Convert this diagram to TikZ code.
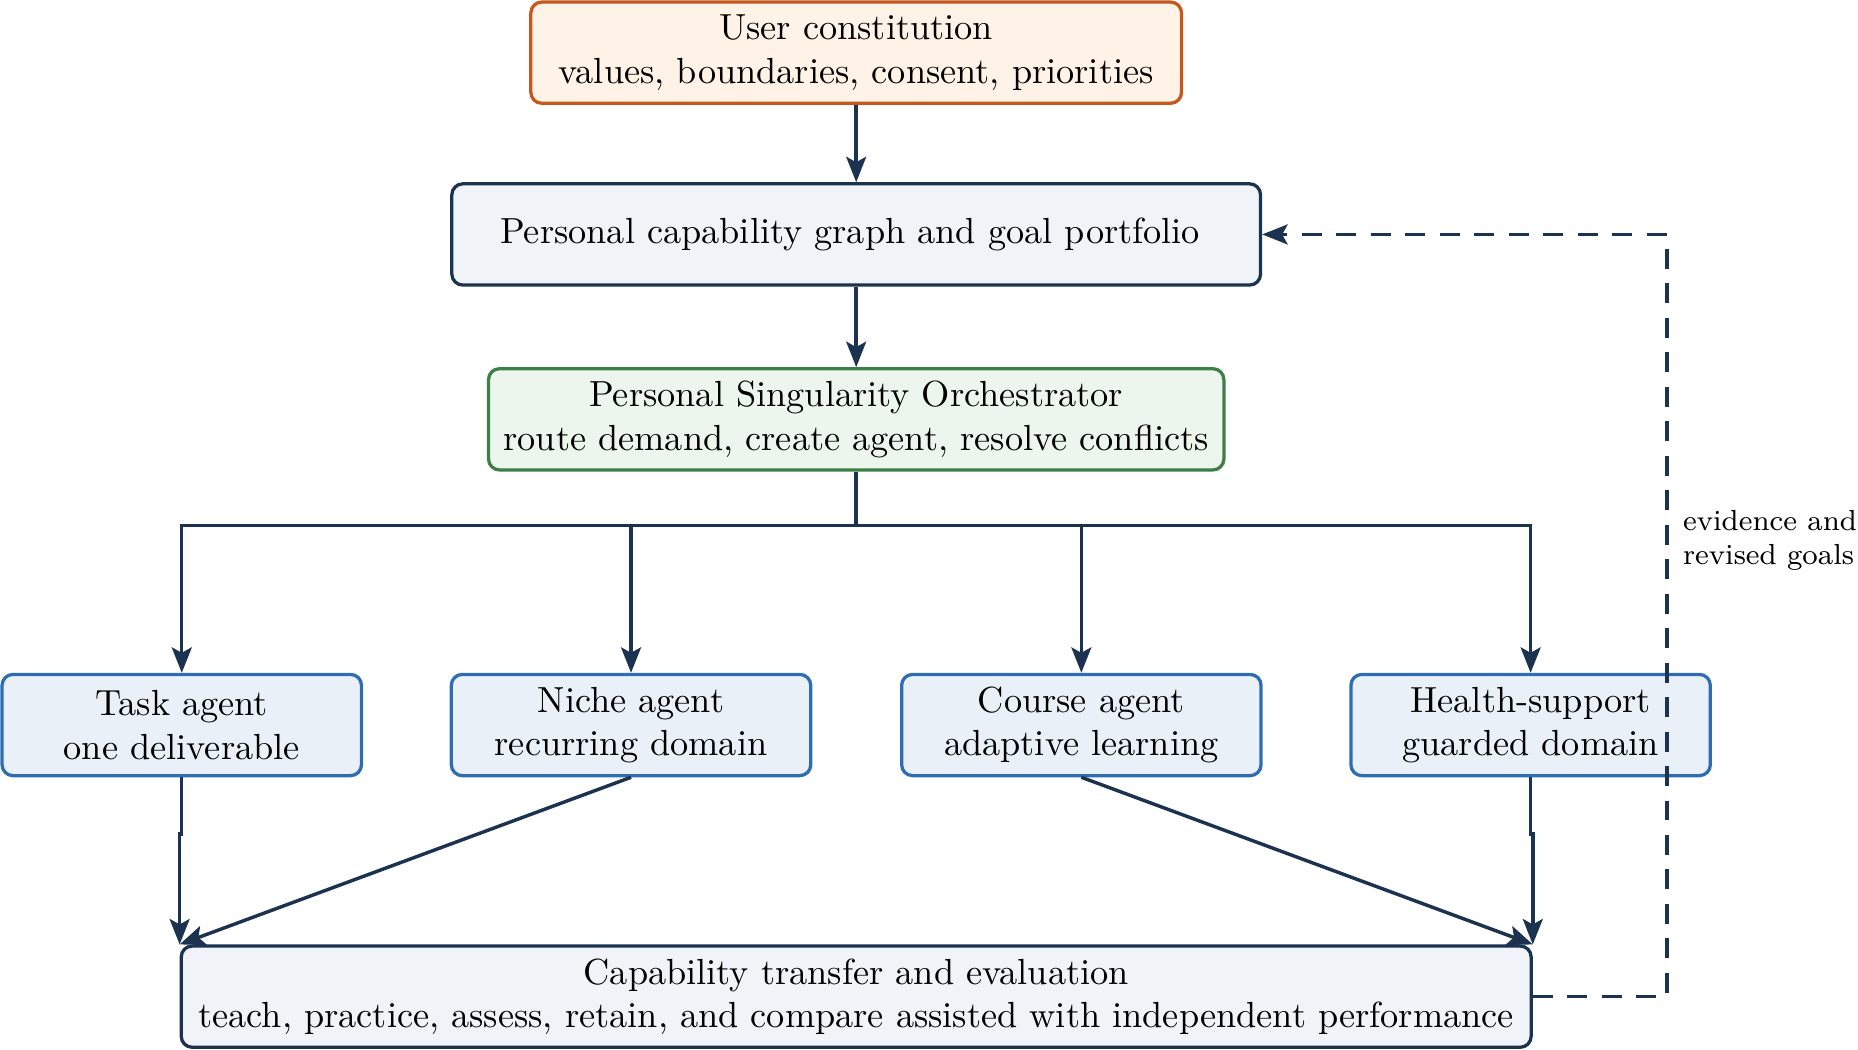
\documentclass[tikz,border=0pt]{standalone}
\usepackage{xcolor}
\usepackage{tikz}
\usetikzlibrary{arrows.meta}
\definecolor{navy}{HTML}{1B3350}
\definecolor{rust}{HTML}{C4581F}
\definecolor{rustfill}{HTML}{FEF3E6}
\definecolor{leaf}{HTML}{3C7F47}
\definecolor{leaffill}{HTML}{EDF6EC}
\definecolor{sky}{HTML}{2F6DB3}
\definecolor{skyfill}{HTML}{E9F0F7}
\definecolor{mist}{HTML}{F0F4F8}

\begin{document}
\begin{tikzpicture}[
      box/.style={draw, line width=0.9pt, rounded corners=3pt,
                  align=center, minimum height=0.98cm, inner sep=3pt},
      agent/.style={box, draw=sky, fill=skyfill, minimum width=3.48cm},
      arr/.style={draw=navy, line width=0.95pt, -{Stealth[length=7pt,width=5.5pt,inset=1.5pt]}},
    ]
      \useasboundingbox (0,0) rectangle (17.99,-10.165);
      \node[box, draw=rust, fill=rustfill, minimum width=6.30cm] (user) at (8.29, -0.51) {%
        User constitution\\
        values, boundaries, consent, priorities
      };
      \node[box, draw=navy, fill=mist, minimum width=7.83cm] (graph) at (8.29, -2.27) {%
        Personal capability graph and goal portfolio
      };
      \node[box, draw=leaf, fill=leaffill, minimum width=7.12cm] (orch) at (8.29, -4.06) {%
        Personal Singularity Orchestrator\\
        route demand, create agent, resolve conflicts
      };
      \node[agent] (task) at (1.76, -7.02) {Task agent\\ one deliverable};
      \node[agent] (niche) at (6.11, -7.02) {Niche agent\\ recurring domain};
      \node[agent] (course) at (10.47, -7.02) {Course agent\\ adaptive learning};
      \node[agent] (health) at (14.82, -7.02) {Health-support\\ guarded domain};
      \node[box, draw=navy, fill=mist, minimum width=13.07cm] (cap) at (8.29, -9.65) {%
        Capability transfer and evaluation\\
        teach, practice, assess, retain, and compare assisted with independent performance
      };

      \draw[arr] (user) -- (graph);
      \draw[arr] (graph) -- (orch);
      \coordinate (split) at (8.29, -5.09);
      \draw[navy, line width=0.95pt] (orch.south) -- (split);
      \foreach \a in {task, niche, course, health}
        \draw[arr] (split) -| (\a.north);

      \draw[arr] (task.south) -- ++(0,-0.55) -| (cap.north west);
      \draw[arr] (niche.south) -- (cap.north west);
      \draw[arr] (course.south) -- (cap.north east);
      \draw[arr] (health.south) -- ++(0,-0.55) -| (cap.north east);

      % feedback loop
      \coordinate (back) at (16.14, -9.65);
      \draw[arr, dash pattern=on 5.5pt off 4pt] (cap.east) -- (back) |- (graph.east);
      \node[font=\footnotesize, align=left, anchor=west, inner sep=0pt] (note) at (16.29, -5.23) {%
        evidence and\\ revised goals
      };
    \end{tikzpicture}
\end{document}
